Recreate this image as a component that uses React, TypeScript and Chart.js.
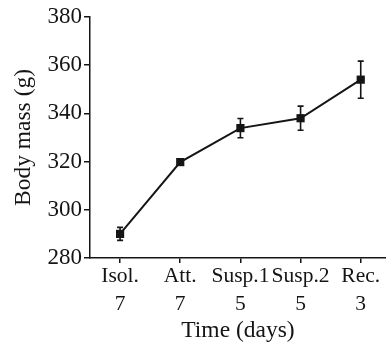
import React, { useEffect, useRef } from "react";
import { Chart, registerables } from "chart.js";

Chart.register(...registerables);

const categories = ["Isol.", "Att.", "Susp.1", "Susp.2", "Rec."];
const sampleSizes = ["7", "7", "5", "5", "3"];
const bodyMass = [290, 319.8, 333.9, 338, 354];
const errors = [2.7, 1, 4, 5, 7.7];
const yTicks = [280, 300, 320, 340, 360, 380];

const FONT = "'Liberation Serif', 'Times New Roman', serif";
const INK = "#151515";

const errorBarPlugin = {
  id: "errorBars",
  afterDatasetsDraw(chart: any) {
    const { ctx, scales } = chart;
    const xs = scales.x;
    const ys = scales.y;
    ctx.save();
    ctx.strokeStyle = INK;
    ctx.lineWidth = 1.6;
    bodyMass.forEach((v, i) => {
      const x = xs.getPixelForValue(i);
      const yt = ys.getPixelForValue(v + errors[i]);
      const yb = ys.getPixelForValue(v - errors[i]);
      ctx.beginPath();
      ctx.moveTo(x, yt);
      ctx.lineTo(x, yb);
      ctx.moveTo(x - 3, yt);
      ctx.lineTo(x + 3, yt);
      ctx.moveTo(x - 3, yb);
      ctx.lineTo(x + 3, yb);
      ctx.stroke();
    });
    ctx.restore();
  },
};

export default function App() {
  const ref = useRef<HTMLCanvasElement>(null);
  useEffect(() => {
    if (!ref.current) return;
    const chart = new Chart(ref.current, {
      type: "line",
      data: {
        datasets: [
          {
            data: bodyMass.map((v, i) => ({ x: i, y: v })),
            borderColor: INK,
            backgroundColor: INK,
            borderWidth: 2,
            pointStyle: "rect",
            pointRadius: 5.8,
            pointBorderWidth: 0,
            pointBackgroundColor: INK,
            tension: 0,
            clip: false,
          },
        ],
      },
      options: {
        responsive: false,
        animation: false,
        layout: { autoPadding: false, padding: { top: 17, right: 0, bottom: 0, left: 0 } },
        plugins: { legend: { display: false }, tooltip: { enabled: false } },
        scales: {
          x: {
            type: "linear",
            min: -0.5,
            max: 4.42,
            afterBuildTicks: (s: any) => {
              s.ticks = categories.map((_, i) => ({ value: i }));
            },
            afterFit: (s: any) => {
              s.height = 87;
              s.paddingLeft = 0;
              s.paddingRight = 0;
            },
            grid: { drawOnChartArea: false, drawTicks: true, tickLength: 5, color: INK, lineWidth: 1.5 },
            border: { display: true, color: INK, width: 1.5 },
            ticks: {
              autoSkip: false,
              maxRotation: 0,
              padding: 0,
              color: INK,
              font: { family: FONT, size: 21.5, lineHeight: 1.27 },
              callback: (v: any) => {
                const i = Math.round(Number(v));
                return [categories[i], sampleSizes[i]];
              },
            },
            title: {
              display: true,
              text: "Time (days)",
              color: INK,
              font: { family: FONT, size: 23.5, lineHeight: 1.2 },
              padding: { top: 0, bottom: 0 },
            },
          },
          y: {
            min: 280,
            max: 380,
            afterBuildTicks: (s: any) => {
              s.ticks = yTicks.map((v) => ({ value: v }));
            },
            afterFit: (s: any) => {
              s.width = 90;
            },
            grid: { drawOnChartArea: false, drawTicks: true, tickLength: 6, color: INK, lineWidth: 1.5 },
            border: { display: true, color: INK, width: 1.5 },
            ticks: {
              padding: 2,
              color: INK,
              font: { family: FONT, size: 23, lineHeight: 1.2 },
            },
            title: {
              display: true,
              text: "Body mass (g)",
              color: INK,
              font: { family: FONT, size: 23.5, lineHeight: 1.2 },
              padding: { top: 10, bottom: 0 },
            },
          },
        },
      },
      plugins: [errorBarPlugin],
    } as any);
    return () => chart.destroy();
  }, []);
  return (
    <div style={{ position: "fixed", left: 0, top: 0, width: 386, height: 345, background: "#fff" }}>
      <canvas ref={ref} width={386} height={345} style={{ display: "block" }} />
    </div>
  );
}
